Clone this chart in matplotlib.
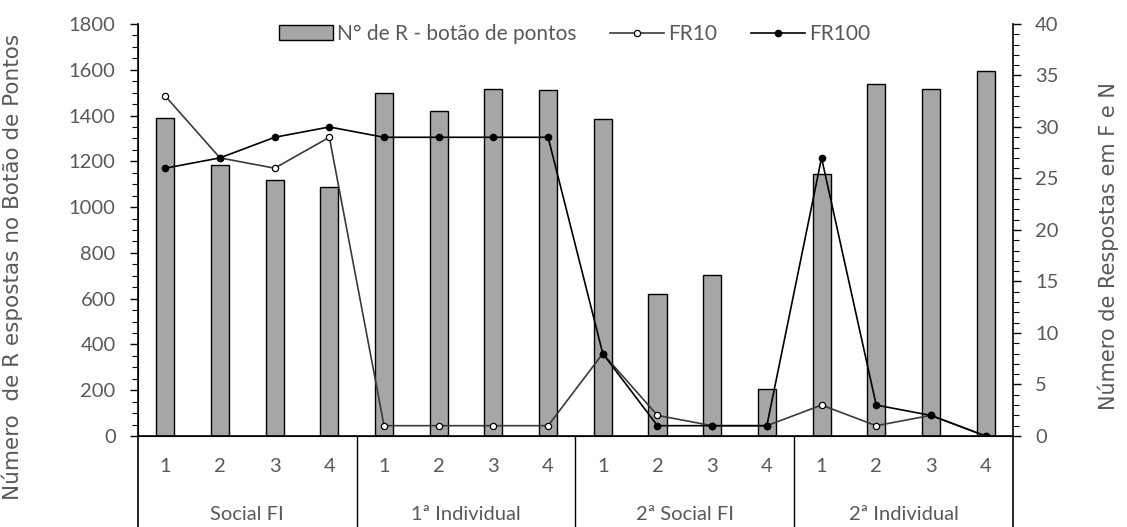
import numpy as np
import matplotlib.pyplot as plt
from matplotlib.lines import Line2D
from matplotlib.ticker import MultipleLocator

# sessions within each phase
groups = ["Social FI", "1ª Individual", "2ª Social FI", "2ª Individual"]
sessions = ["1", "2", "3", "4"]

# responses on the points button (left axis)
botao = [1390, 1185, 1120, 1088, 1497, 1420, 1516, 1510,
         1384, 620, 703, 204, 1143, 1538, 1516, 1595]
# responses in F and N (right axis)
fr10 = [33, 27, 26, 29, 1, 1, 1, 1, 8, 2, 1, 1, 3, 1, 2, 0]
fr100 = [26, 27, 29, 30, 29, 29, 29, 29, 8, 1, 1, 1, 27, 3, 2, 0]

gray_txt = "#595959"
plt.rcParams['font.family'] = ['Lato', 'DejaVu Sans']

fig = plt.figure(figsize=(11.27, 5.27), dpi=100)
ax = fig.add_axes([0.1224, 0.1727, 0.7764, 0.7818])
ax2 = ax.twinx()

x = np.arange(len(botao))
ax.bar(x, botao, width=0.33, color="#A6A6A6", edgecolor="black", linewidth=1,
       label="N° de R - botão de pontos", zorder=2)
ax2.plot(x, fr10, color="#3a3a3a", lw=1.2, marker="o", ms=4.5, mfc="white",
         mec="black", mew=0.9, label="FR10", zorder=3)
ax2.plot(x, fr100, color="black", lw=1.2, marker="o", ms=4.5, mfc="black",
         mec="black", label="FR100", zorder=4)

ax.set_xlim(-0.5, len(botao) - 0.5)
ax.set_ylim(0, 1800)
ax2.set_ylim(0, 40)
ax.yaxis.set_major_locator(MultipleLocator(200))
ax.yaxis.set_minor_locator(MultipleLocator(50))
ax2.yaxis.set_major_locator(MultipleLocator(5))
ax2.yaxis.set_minor_locator(MultipleLocator(1))

for a in (ax, ax2):
    a.spines['top'].set_visible(False)
    a.tick_params(axis='y', which='major', length=6, width=1, colors="black",
                  labelcolor=gray_txt, labelsize=14.5, pad=10)
    a.tick_params(axis='y', which='minor', length=4, width=0.8, colors="black")
    a.set_xticks([])
ax.spines['right'].set_visible(False)
ax2.spines['left'].set_linewidth(1.2)
ax2.spines['right'].set_linewidth(1.2)
ax2.spines['bottom'].set_linewidth(1.2)

# multi-level category axis below the plot
tr = ax.get_xaxis_transform()
bottom = -0.222
for i in range(len(botao)):
    ax.text(x[i], -0.075, sessions[i % 4], transform=tr, ha="center", va="center",
            fontsize=14.5, color=gray_txt)
for g, name in enumerate(groups):
    ax.text(g * 4 + 1.5, -0.19, name, transform=tr, ha="center", va="center",
            fontsize=14.5, color=gray_txt)
for b in range(len(groups) + 1):
    ax.add_line(Line2D([b * 4 - 0.5, b * 4 - 0.5], [0, bottom], transform=tr,
                       color="black", lw=1.2 if b in (0, 4) else 1, clip_on=False))

ax.set_ylabel("Número  de R espostas no Botão de Pontos", family="DejaVu Sans",
              fontsize=15.5, color=gray_txt)
ax.yaxis.set_label_coords(-0.131, 0.41)
ax2.set_ylabel("Número de Respostas em F e N", family="DejaVu Sans",
               fontsize=15, color=gray_txt)
ax2.yaxis.set_label_coords(1.097, 0.46)

h1, l1 = ax.get_legend_handles_labels()
h2, l2 = ax2.get_legend_handles_labels()
fig.legend(h1 + h2, l1 + l2, loc="upper center", bbox_to_anchor=(0.51, 0.99),
           ncol=3, frameon=False, fontsize=15, labelcolor=gray_txt,
           handlelength=2.6, handletextpad=0.2, columnspacing=1.6)

fig.savefig("out.png", dpi=100)
